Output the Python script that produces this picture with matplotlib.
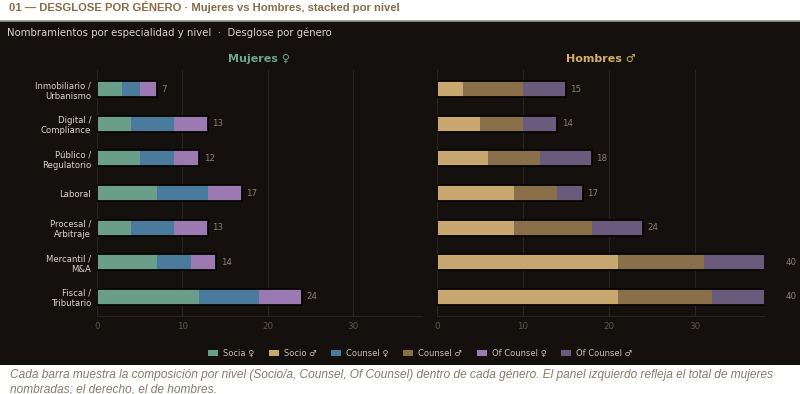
import numpy as np
import matplotlib
matplotlib.use("Agg")
import matplotlib.pyplot as plt
from matplotlib.patches import Rectangle, Patch

# ---- data ----
especialidades = ["Inmobiliario /\nUrbanismo", "Digital /\nCompliance", "Público /\nRegulatorio",
                  "Laboral", "Procesal /\nArbitraje", "Mercantil /\nM&A", "Fiscal /\nTributario"]

socia = [3, 4, 5, 7, 4, 7, 12]
counsel_m = [2, 5, 4, 6, 5, 4, 7]
of_counsel_m = [2, 4, 3, 4, 4, 3, 5]

socio = [3, 5, 6, 9, 9, 21, 21]
counsel_h = [7, 5, 6, 5, 9, 10, 11]
of_counsel_h = [5, 4, 6, 3, 6, 9, 8]

BG = "#13100d"
GRID = "#2a2520"
TXT = "#ddd5c8"
MUTED = "#5e564c"

col_m = ["#6a9e8a", "#4a7a9c", "#9a7ab0"]
col_h = ["#c8a870", "#8a704a", "#6a5a7c"]

plt.rcParams["font.family"] = ["DejaVu Sans"]

fig = plt.figure(figsize=(8, 3.94), dpi=100, facecolor="white")

# dark panel + thin top border
fig.add_artist(Rectangle((0, 29 / 394), 1, (365 - 21) / 394, transform=fig.transFigure,
                         facecolor=BG, edgecolor="none", zorder=0))
fig.add_artist(plt.Line2D([0, 1], [373 / 394, 373 / 394], transform=fig.transFigure,
                          color="#9a9590", lw=1.2, zorder=1))

fig.text(0.011, 0.982, "01 — DESGLOSE POR GÉNERO · Mujeres vs Hombres, stacked por nivel",
         family="Liberation Sans", fontweight="bold", fontsize=8.1,
         color="#8b6b48", ha="left", va="center")
fig.text(0.009, 0.918, "Nombramientos por especialidad y nivel  ·  Desglose por género",
         fontsize=7.3, color=TXT, ha="left", va="center")
fig.text(0.012, 0.064,
         "Cada barra muestra la composición por nivel (Socio/a, Counsel, Of Counsel) dentro de cada género. "
         "El panel izquierdo refleja el total de mujeres\nnombradas; el derecho, el de hombres.",
         family="Liberation Sans", style="italic", fontsize=8.6, color="#8a7a68",
         ha="left", va="top", linespacing=1.3)

ax_m = fig.add_axes([0.121, 0.198, 0.406, 0.624])
ax_h = fig.add_axes([0.546, 0.198, 0.409, 0.624])

y = np.arange(len(especialidades))


def panel(ax, series, colors, title, tcolor, show_labels):
    ax.set_facecolor(BG)
    left = np.zeros(len(y))
    for vals, c in zip(series, colors):
        ax.barh(y, vals, left=left, height=0.46, color=c, edgecolor="none", zorder=2)
        left = left + np.array(vals)
    ax.barh(y, left, height=0.46, facecolor="none", edgecolor="#050403", lw=1.3, zorder=3)
    for yi, tot in zip(y, left):
        ax.text(tot + 0.5, yi, f"{int(tot)}", color="#8a8070", fontsize=6.3,
                va="center", ha="left", clip_on=False)
    ax.set_xlim(0, 38)
    ax.set_ylim(6.55, -0.55)
    ax.set_xticks([0, 10, 20, 30])
    ax.grid(axis="x", color=GRID, lw=0.8, zorder=0)
    ax.grid(axis="y", visible=False)
    ax.set_axisbelow(True)
    for s in ["top", "right", "left"]:
        ax.spines[s].set_visible(False)
    ax.spines["bottom"].set_color(GRID)
    ax.tick_params(axis="x", colors=MUTED, labelsize=6.3, length=0, pad=4)
    ax.tick_params(axis="y", length=0, pad=4, labelsize=6.1, colors=TXT)
    ax.set_yticks(y)
    if show_labels:
        ax.set_yticklabels(especialidades)
    else:
        ax.set_yticklabels([])
    ax.set_title(title, color=tcolor, fontsize=8, fontweight="bold", pad=6)


panel(ax_m, [socia, counsel_m, of_counsel_m], col_m, "Mujeres ♀", "#6aa58e", True)
panel(ax_h, [socio, counsel_h, of_counsel_h], col_h, "Hombres ♂", "#d4b06a", False)

labels = ["Socia ♀", "Socio ♂", "Counsel ♀", "Counsel ♂", "Of Counsel ♀", "Of Counsel ♂"]
colors = [col_m[0], col_h[0], col_m[1], col_h[1], col_m[2], col_h[2]]
handles = [Patch(facecolor=c, edgecolor="none") for c in colors]
leg = fig.legend(handles, labels, loc="center", bbox_to_anchor=(0.525, 0.103), ncol=6,
                 frameon=False, fontsize=6, handlelength=1.2, handleheight=0.75,
                 columnspacing=1.75, handletextpad=0.6)
for t in leg.get_texts():
    t.set_color("#c8c0b4")

fig.savefig("out.png", dpi=100, facecolor="white")
